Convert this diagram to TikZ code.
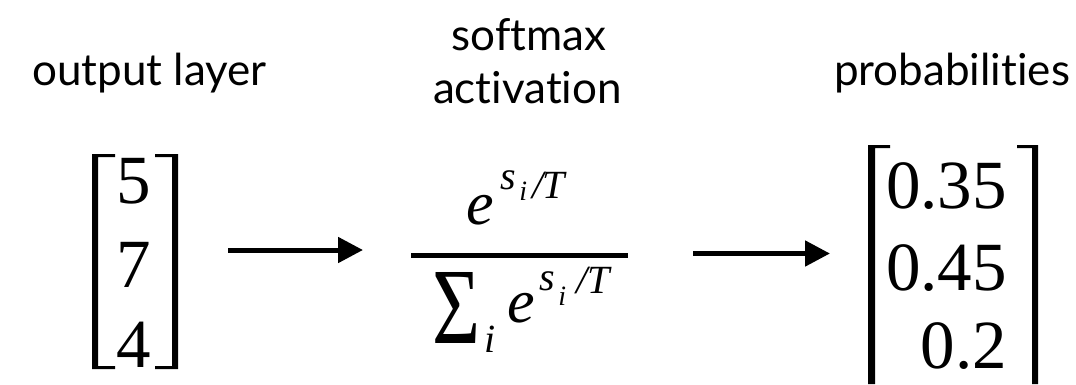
\documentclass[tikz,border=0pt]{standalone}
\usepackage{graphicx}
\usepackage{fontspec}
\setmainfont{Liberation Serif}
\newfontfamily\labfont[Ligatures={NoCommon,NoRare,NoContextual}]{Lato}
\usetikzlibrary{arrows.meta}
\begin{document}
\begin{tikzpicture}[x=1pt,y=-1pt,
  lab/.style={font=\labfont\fontsize{44}{44}\selectfont, inner sep=0pt, anchor=base},
  dig/.style={font=\fontsize{69}{69}\selectfont, inner sep=0pt, anchor=base},
  conn/.style={line width=5pt, -{Triangle[length=25pt,width=25pt]}},
  brk/.style={fill=black}
]
\useasboundingbox (0,0) rectangle (1076,384);
% labels
\node[lab] (out) at (149.5,85) {output layer};
\node[lab] (soft1) at (529,50) {softmax};
\node[lab] (soft2) at (527.5,103) {activat\kern0pt ion};
\node[lab] (prob) at (952,85) {probabilit\kern0pt ies};
% left vector
\node[dig] (l1) at (134,203) {5};
\node[dig] (l2) at (134,287) {7};
\node[dig] (l3) at (134,367) {4};
\fill[brk] (92,154) -- (115,154) -- (115,157) -- (98,157) -- (98,366) -- (115,366) -- (115,369) -- (92,369) -- cycle;
\fill[brk] (178,154) -- (155,154) -- (155,157) -- (172,157) -- (172,366) -- (155,366) -- (155,369) -- (178,369) -- cycle;
% right vector
\node[dig, anchor=base east] (r1) at (1007,208) {0.35};
\node[dig, anchor=base east] (r2) at (1007,290) {0.45};
\node[dig, anchor=base east] (r3) at (1007,368) {0.2};
\fill[brk] (868,145) -- (890,145) -- (890,148) -- (875,148) -- (875,384) -- (868,384) -- cycle;
\fill[brk] (1038,145) -- (1017,145) -- (1017,148) -- (1032,148) -- (1032,384) -- (1038,384) -- cycle;
% softmax fraction
\node[anchor=base west, inner sep=0pt] (num) at (466,224) {\fontsize{62}{62}\selectfont\itshape e\kern7pt\raisebox{35pt}{\fontsize{40}{40}\selectfont s}\kern3pt\raisebox{24pt}{\fontsize{28}{28}\selectfont i}\kern5pt\raisebox{26pt}{\fontsize{40}{40}\selectfont /\kern-1pt T}};
\draw[line width=5pt] (411,255.5) -- (628,255.5);
\node[anchor=base west, inner sep=0pt] (den) at (432,322) {\raisebox{-21pt}{\resizebox{48pt}{71pt}{Σ}}\kern4pt\raisebox{-30pt}{\fontsize{40}{40}\selectfont\itshape i}\kern12pt{\fontsize{62}{62}\selectfont\itshape e}\kern5pt\raisebox{32pt}{\fontsize{40}{40}\selectfont\itshape s}\kern3pt\raisebox{17pt}{\fontsize{28}{28}\selectfont\itshape i}\kern10pt\raisebox{29pt}{\fontsize{40}{40}\selectfont\itshape /T}};
% connectors
\coordinate (a1s) at (228,250);
\coordinate (a1e) at (363,250);
\coordinate (a2s) at (693,253.5);
\coordinate (a2e) at (830,253.5);
\draw[conn] (a1s) -- (a1e);
\draw[conn] (a2s) -- (a2e);
\end{tikzpicture}
\end{document}
